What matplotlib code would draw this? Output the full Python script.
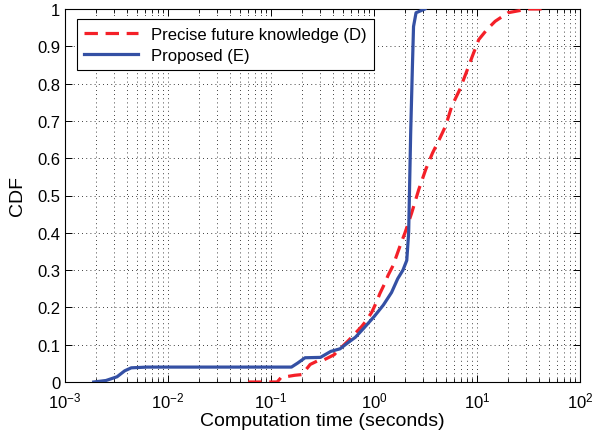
import matplotlib
matplotlib.use("Agg")
import matplotlib.pyplot as plt
from matplotlib.ticker import LogLocator, NullFormatter

plt.rcParams['font.family'] = ['Liberation Sans', 'DejaVu Sans']
plt.rcParams['mathtext.default'] = 'regular'

# CDF of computation time (seconds, cumulative fraction)
precise_time = [0.060, 0.115, 0.125, 0.17, 0.20, 0.214, 0.24, 0.28, 0.33, 0.41, 0.44,
                0.56, 0.76, 0.85, 0.955, 1.06, 1.14, 1.27, 1.37, 1.53, 1.84, 2.0,
                2.32, 2.72, 3.18, 3.70, 4.30, 4.95, 5.70, 6.80, 7.85, 9.0, 10.4,
                12.5, 15.0, 20.0, 31.3, 49.0]
precise_cdf = [0.0, 0.0, 0.012, 0.018, 0.02, 0.03, 0.047, 0.056, 0.06, 0.073, 0.082,
               0.11, 0.149, 0.166, 0.188, 0.215, 0.237, 0.264, 0.286, 0.312, 0.374, 0.40,
               0.453, 0.516, 0.57, 0.614, 0.65, 0.686, 0.74, 0.784, 0.829, 0.873, 0.918,
               0.945, 0.967, 0.99, 1.0, 1.0]

proposed_time = [0.0019, 0.0025, 0.0032, 0.0038, 0.0044, 0.0063, 0.158, 0.182, 0.214,
                 0.302, 0.38, 0.468, 0.55, 0.66, 0.794, 1.0, 1.23, 1.48, 1.70, 1.91,
                 2.08, 2.17, 2.27, 2.36, 2.42, 2.56, 3.12]
proposed_cdf = [0.0, 0.004, 0.014, 0.03, 0.038, 0.04, 0.04, 0.051, 0.065,
                0.066, 0.082, 0.089, 0.104, 0.12, 0.144, 0.175, 0.206, 0.24, 0.277, 0.30,
                0.326, 0.40, 0.667, 0.846, 0.953, 0.99, 1.0]

series_labels = ["Precise future knowledge (D)", "Proposed (E)"]
y_ticks = [0, 0.1, 0.2, 0.3, 0.4, 0.5, 0.6, 0.7, 0.8, 0.9, 1]
y_tick_labels = ["0", "0.1", "0.2", "0.3", "0.4", "0.5", "0.6", "0.7", "0.8", "0.9", "1"]

fig = plt.figure(figsize=(5.99, 4.35), dpi=100)
ax = fig.add_axes([65 / 599, 52 / 435, 515 / 599, 373 / 435])

ax.plot(precise_time, precise_cdf, color='#f42028', lw=2.3, dashes=(4.2, 2.4),
        label=series_labels[0], zorder=3)
ax.plot(proposed_time, proposed_cdf, color='#3450a4', lw=2.3,
        label=series_labels[1], zorder=4)

ax.set_xscale('log')
ax.set_xlim(1e-3, 1e2)
ax.set_ylim(0, 1)
ax.set_yticks(y_ticks)
ax.set_yticklabels(y_tick_labels)
ax.xaxis.set_major_locator(LogLocator(base=10, numticks=10))
ax.xaxis.set_minor_locator(LogLocator(base=10, subs=range(2, 10), numticks=20))
ax.xaxis.set_minor_formatter(NullFormatter())

ax.grid(True, which='major', axis='both', color='k', linestyle=(0, (1, 4)), lw=0.6)
ax.grid(True, which='minor', axis='x', color='k', linestyle=(0, (1, 4)), lw=0.6)

ax.tick_params(which='both', direction='in', top=True, right=True, labelsize=12)
ax.tick_params(axis='x', which='major', pad=6)
ax.tick_params(which='major', length=5, width=0.7)
ax.tick_params(which='minor', length=3, width=0.6)
for s in ax.spines.values():
    s.set_linewidth(0.8)

ax.set_xlabel("Computation time (seconds)", fontsize=14, labelpad=1)
ax.set_ylabel("CDF", fontsize=14, labelpad=8)

leg = ax.legend(loc='upper left', bbox_to_anchor=(0.023, 0.972), borderaxespad=0,
                fontsize=12, fancybox=False, edgecolor='k', framealpha=1,
                handlelength=3.2, borderpad=0.45, labelspacing=0.35)
leg.get_frame().set_linewidth(0.8)

fig.savefig("out.png", dpi=100)
